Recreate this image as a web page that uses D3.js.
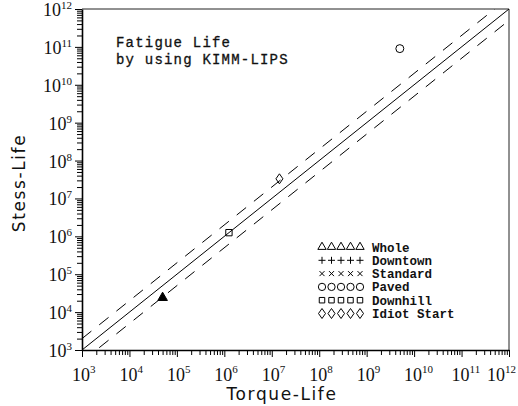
<!DOCTYPE html>
<html><head><meta charset="utf-8">
<script src="https://cdn.jsdelivr.net/npm/d3@7"></script>
<style>body{margin:0;background:#fff}svg{display:block}</style>
</head><body>
<svg id="c" width="518" height="406"></svg>
<script>
const xDomain = [1e3, 1e12];
const yDomain = [1e3, 1e12];
const tickExps = [3,4,5,6,7,8,9,10,11,12];
const seriesNames = ["Whole","Downtown","Standard","Paved","Downhill","Idiot Start"];
const seriesSymbols = ["triangle","plus","cross","circle","square","diamond"];
const pointsX = [5e4, null, null, 5e9, 1.25e6, 1.45e7];
const pointsY = [2.4e4, null, null, 9e10, 1.25e6, 3.3e7];
const pointsFilled = [true, false, false, false, false, false];
const bandFactor = 2;
const titleLines = ["Fatigue Life","by using KIMM-LIPS"];

const svg = d3.select("#c");
const L=82, R=509, T=9, B=350;
const x = d3.scaleLog().domain(xDomain).range([L,R]);
const y = d3.scaleLog().domain(yDomain).range([B,T]);

svg.append("clipPath").attr("id","clip").append("rect")
  .attr("x",L).attr("y",T).attr("width",R-L).attr("height",B-T);

// frame top/right
svg.append("line").attr("x1",L).attr("x2",R).attr("y1",T).attr("y2",T).attr("stroke","#222").attr("stroke-width",1);
svg.append("line").attr("x1",R).attr("x2",R).attr("y1",T).attr("y2",B).attr("stroke","#222").attr("stroke-width",1);

// axes
const minorTicks = [];
for (let e=3;e<12;e++) for (let m=1;m<10;m++) minorTicks.push(m*Math.pow(10,e));
minorTicks.push(1e12);
const xAxis = d3.axisBottom(x).tickValues(minorTicks).tickFormat("").tickSize(5).tickSizeOuter(0);
const yAxis = d3.axisLeft(y).tickValues(minorTicks).tickFormat("").tickSize(5).tickSizeOuter(0);
const gx = svg.append("g").attr("transform",`translate(0,${B})`).call(xAxis);
const gy = svg.append("g").attr("transform",`translate(${L},0)`).call(yAxis);
[gx,gy].forEach(g=>{g.select(".domain").attr("stroke","#000").attr("stroke-width",1.6);
  g.selectAll(".tick line").attr("stroke","#000").attr("stroke-width",1);});
gx.selectAll(".tick").filter(d=>Math.abs(Math.log10(d)%1)<1e-9).select("line").attr("y2",7);
gy.selectAll(".tick").filter(d=>Math.abs(Math.log10(d)%1)<1e-9).select("line").attr("x2",-7);

// tick labels
const serif = "Liberation Serif, Times New Roman, serif";
tickExps.forEach(e=>{
  let sx = x(Math.pow(10,e)) - 10;
  const t = svg.append("text").attr("x",sx).attr("y",B+31)
    .attr("font-family",serif).attr("font-size",18).attr("fill","#111");
  t.append("tspan").text("10");
  t.append("tspan").attr("font-size",11).attr("dy",-8).text(e);
  const w = t.node().getComputedTextLength();
  if (sx + w > 516) t.attr("x", 516 - w);
  const u = svg.append("text").attr("x",L-10).attr("y",y(Math.pow(10,e))+7)
    .attr("text-anchor","end").attr("font-family",serif)
    .attr("font-size",18).attr("fill","#111");
  u.append("tspan").text("10");
  u.append("tspan").attr("font-size",11).attr("dy",-7).text(e);
});

// axis titles
const sans = "DejaVu Sans, Verdana, sans-serif";
svg.append("text").attr("x",282).attr("y",400).attr("text-anchor","middle")
  .attr("font-family",sans).attr("font-size",17).attr("letter-spacing",1.6).attr("fill","#111").text("Torque-Life");
svg.append("text").attr("transform","translate(25,183) rotate(-90)").attr("text-anchor","middle")
  .attr("font-family",sans).attr("font-size",17).attr("letter-spacing",1.6).attr("fill","#111").text("Stess-Life");

// lines
const plot = svg.append("g").attr("clip-path","url(#clip)");
const lineGen = d3.line().x(d=>x(d[0])).y(d=>y(d[1]));
plot.append("path").datum([[1e3,1e3],[1e12,1e12]]).attr("d",lineGen)
  .attr("stroke","#000").attr("stroke-width",1).attr("fill","none");
plot.append("path").datum([[1e3,1e3*bandFactor],[1e12,1e12*bandFactor]]).attr("d",lineGen)
  .attr("stroke","#000").attr("stroke-width",1).attr("fill","none").attr("stroke-dasharray","12,10");
plot.append("path").datum([[1e3,1e3/bandFactor],[1e12,1e12/bandFactor]]).attr("d",lineGen)
  .attr("stroke","#000").attr("stroke-width",1).attr("fill","none").attr("stroke-dasharray","12,10");

// symbols
const symMap = {triangle:d3.symbolTriangle, plus:d3.symbolCross, cross:d3.symbolX, circle:d3.symbolCircle, square:d3.symbolSquare, diamond:d3.symbolDiamond};
function drawSym(g, kind, cx, cy, size, filled){
  if (kind==="plus") {
    g.append("path").attr("d",`M${cx-3.5},${cy}h7M${cx},${cy-3.5}v7`).attr("stroke","#000").attr("fill","none").attr("stroke-width",1);
  } else if (kind==="cross") {
    g.append("path").attr("d",`M${cx-2.5},${cy-2.5}l5,5M${cx-2.5},${cy+2.5}l5,-5`).attr("stroke","#000").attr("fill","none").attr("stroke-width",1);
  } else if (kind==="diamond") {
    g.append("path").attr("d",`M${cx},${cy-5}L${cx+3.5},${cy}L${cx},${cy+5}L${cx-3.5},${cy}Z`).attr("stroke","#000").attr("fill",filled?"#000":"none").attr("stroke-width",1);
  } else {
    g.append("path").attr("d",d3.symbol().type(symMap[kind]).size(size)())
      .attr("transform",`translate(${cx},${cy})`).attr("stroke","#000")
      .attr("fill",filled?"#000":"none").attr("stroke-width",1);
  }
}
seriesNames.forEach((n,i)=>{
  if (pointsX[i]==null) return;
  drawSym(svg, seriesSymbols[i], x(pointsX[i]), y(pointsY[i]), seriesSymbols[i]==="circle"?50:40, pointsFilled[i]);
});

// legend
seriesNames.forEach((n,i)=>{
  const ly = 247 + i*13.3;
  for (let k=0;k<5;k++) drawSym(svg, seriesSymbols[i], 322 + k*9.5, ly, seriesSymbols[i]==="circle"?42:30, false);
  svg.append("text").attr("x",372).attr("y",ly+4.5).attr("font-family","Liberation Mono, Courier New, monospace")
    .attr("font-weight","bold").attr("font-size",12.5).attr("fill","#111").text(n);
});

// title
titleLines.forEach((t,i)=>{
  svg.append("text").attr("x",116).attr("y",47+i*16.5).attr("font-family","Liberation Mono, Courier New, monospace")
    .attr("font-size",14).attr("letter-spacing",1.2).attr("fill","#111").attr("stroke","#111").attr("stroke-width",0.3).text(t);
});
</script>
</body></html>
